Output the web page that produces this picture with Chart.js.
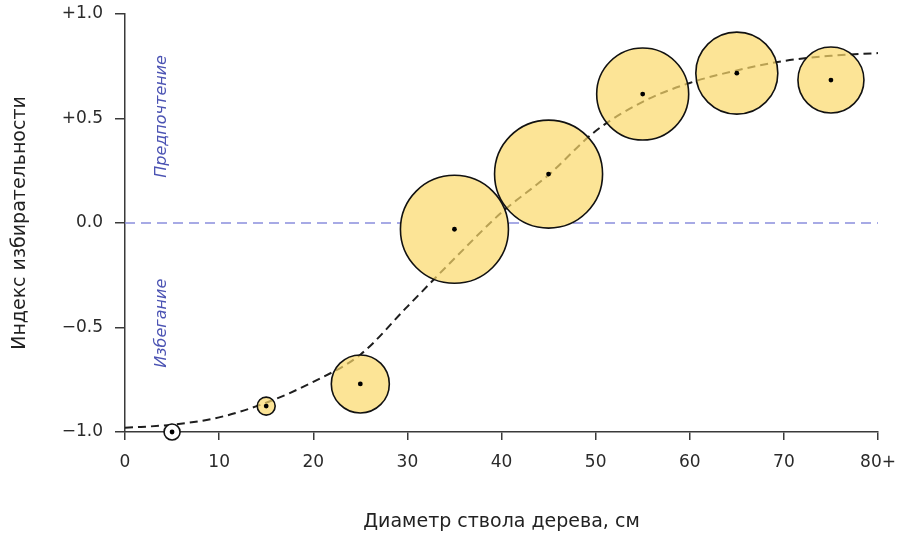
<!DOCTYPE html>
<html>
<head>
<meta charset="utf-8">
<script src="https://cdn.jsdelivr.net/npm/chart.js@4"></script>
<style>
  html, body { margin: 0; padding: 0; background: #ffffff; }
  #wrap { width: 904px; height: 537px; position: relative; }
</style>
</head>
<body>
<div id="wrap"><canvas id="chart" width="904" height="537"></canvas></div>
<script>
// Diameter classes (cm) and the selectivity index measured in each
const diameterClasses = [5, 15, 25, 35, 45, 55, 65, 75];
const selectivity = [-1.0, -0.876, -0.77, -0.03, 0.234, 0.617, 0.717, 0.684];
// Bubble radius for each class (number of trees in the class)
const bubbleRadius = [8, 9, 29, 54, 54, 46, 41, 33];

// Fitted trend curve
const curveX = [0, 5, 10, 15, 20, 25, 30, 35, 40, 45, 50, 55, 60, 65, 70, 75, 80];
const curveY = [-0.98, -0.965, -0.93, -0.86, -0.76, -0.63, -0.40, -0.17, 0.05, 0.23, 0.44, 0.58, 0.67, 0.73, 0.775, 0.80, 0.813];

// Axis tick labels
const xTickLabels = ['0', '10', '20', '30', '40', '50', '60', '70', '80+'];
const yTickLabels = ['\u22121.0', '\u22120.5', '0.0', '+0.5', '+1.0'];

const FONT = "'DejaVu Sans', Verdana, sans-serif";
const AXIS_COLOR = '#3a3a3a';

const bubbles = diameterClasses.map((x, i) => ({ x, y: selectivity[i], r: bubbleRadius[i] }));
const curve = curveX.map((x, i) => ({ x, y: curveY[i] }));

// Labels written inside the plot along the zero line
const sideLabels = {
  id: 'sideLabels',
  afterDatasetsDraw(chart) {
    const { ctx, scales } = chart;
    ctx.save();
    ctx.fillStyle = '#4b53b3';
    ctx.font = `italic 16px ${FONT}`;
    ctx.textAlign = 'center';
    ctx.textBaseline = 'middle';
    const px = scales.x.getPixelForValue(3.9);
    [['Предпочтение', 0.51], ['Избегание', -0.48]].forEach(([t, v]) => {
      ctx.save();
      ctx.translate(px, scales.y.getPixelForValue(v));
      ctx.rotate(-Math.PI / 2);
      ctx.fillText(t, 0, 0);
      ctx.restore();
    });
    ctx.restore();
  }
};

new Chart(document.getElementById('chart'), {
  type: 'bubble',
  data: {
    datasets: [
      {
        // zero reference line
        type: 'line',
        data: [{ x: 0, y: 0 }, { x: 80, y: 0 }],
        borderColor: '#8a8edd',
        borderWidth: 1.5,
        borderDash: [10, 6],
        pointRadius: 0,
        order: 5
      },
      {
        // opaque base of the circles
        data: bubbles,
        backgroundColor: '#ffffff',
        borderWidth: 0,
        order: 4
      },
      {
        // trend curve
        type: 'line',
        data: curve,
        borderColor: '#1e1e1e',
        borderWidth: 2,
        borderDash: [8, 5],
        pointRadius: 0,
        cubicInterpolationMode: 'monotone',
        order: 3
      },
      {
        // circles
        data: bubbles,
        backgroundColor: bubbles.map((b, i) => i === 0 ? '#ffffff' : 'rgba(251, 217, 106, 0.7)'),
        borderColor: '#111111',
        borderWidth: 1.6,
        order: 2
      },
      {
        // centre dots
        type: 'scatter',
        data: bubbles.map(b => ({ x: b.x, y: b.y })),
        backgroundColor: '#000000',
        borderWidth: 0,
        pointRadius: 2.4,
        order: 1
      }
    ]
  },
  options: {
    responsive: false,
    animation: false,
    clip: false,
    layout: { autoPadding: false, padding: { top: 14, right: 26, left: 0, bottom: 0 } },
    plugins: {
      legend: { display: false },
      tooltip: { enabled: false }
    },
    scales: {
      x: {
        type: 'linear',
        min: 0,
        max: 80,
        afterFit(s) { s.height = 105; s.paddingLeft = 0; s.paddingRight = 0; },
        ticks: {
          stepSize: 10,
          color: '#2a2a2a',
          font: { family: FONT, size: 17 },
          padding: 12,
          callback: (v) => xTickLabels[Math.round(v / 10)]
        },
        grid: {
          drawOnChartArea: false,
          color: AXIS_COLOR,
          lineWidth: 1.5,
          tickLength: 8
        },
        border: { color: AXIS_COLOR, width: 1.5 },
        title: {
          display: true,
          text: 'Диаметр ствола дерева, см',
          color: '#222',
          font: { family: FONT, size: 19 },
          padding: { top: 15 }
        }
      },
      y: {
        type: 'linear',
        min: -1,
        max: 1,
        afterFit(s) { s.width = 125; s.paddingTop = 0; s.paddingBottom = 0; },
        ticks: {
          stepSize: 0.5,
          color: '#2a2a2a',
          font: { family: FONT, size: 17 },
          padding: 12,
          callback: (v) => yTickLabels[Math.round((v + 1) / 0.5)]
        },
        grid: {
          drawOnChartArea: false,
          color: AXIS_COLOR,
          lineWidth: 1.5,
          tickLength: 10
        },
        border: { color: AXIS_COLOR, width: 1.5 },
        title: {
          display: true,
          text: 'Индекс избирательности',
          color: '#222',
          font: { family: FONT, size: 19 },
          padding: { top: 9, bottom: 8 }
        }
      }
    }
  },
  plugins: [sideLabels]
});
</script>
</body>
</html>
